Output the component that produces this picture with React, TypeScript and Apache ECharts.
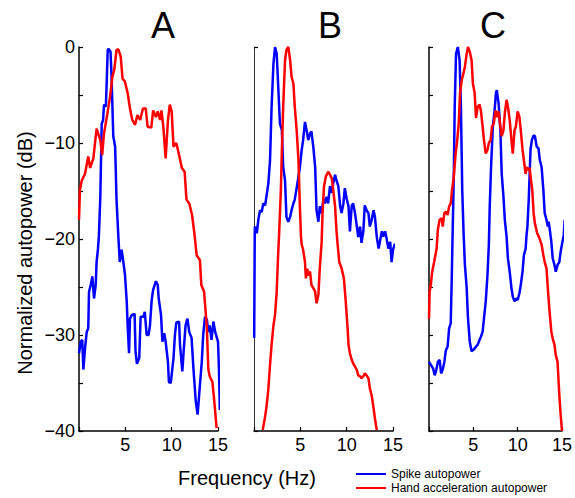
import React, { useEffect, useRef } from "react";
import * as echarts from "echarts";

// ---- data: [frequency (Hz), normalized autopower (dB)] ----
const spikeA: number[][] = [[0,-31.9],[0.2,-30.7],[0.35,-30.5],[0.47,-33.6],[0.65,-31.4],[0.83,-29.7],[1.0,-29.3],[1.08,-25.5],[1.26,-24.8],[1.44,-23.9],[1.62,-26.2],[1.8,-24.8],[1.9,-22.4],[2.05,-21.0],[2.15,-19.6],[2.3,-15.6],[2.45,-8.0],[2.6,-7.6],[2.7,-6.0],[2.9,-6.2],[3.0,-3.4],[3.1,-0.3],[3.2,-0.2],[3.4,-0.5],[3.5,-2.7],[3.7,-9.3],[3.9,-10.4],[4.05,-15.9],[4.25,-19.8],[4.4,-22.4],[4.6,-21.1],[4.8,-22.5],[4.96,-23.7],[5.15,-26.5],[5.25,-29.0],[5.4,-31.9],[5.5,-28.3],[5.7,-27.9],[6.0,-27.8],[6.1,-31.7],[6.25,-33.0],[6.5,-32.4],[6.65,-28.1],[6.95,-28.1],[7.1,-27.6],[7.3,-30.0],[7.5,-30.0],[7.65,-29.1],[7.85,-26.3],[8.0,-25.3],[8.3,-24.4],[8.5,-24.8],[8.6,-26.2],[8.85,-27.9],[9.0,-30.7],[9.2,-29.8],[9.35,-30.7],[9.6,-32.8],[9.7,-34.9],[9.9,-35.0],[10.2,-32.4],[10.35,-30.0],[10.5,-28.7],[10.8,-28.6],[10.9,-31.0],[11.15,-33.8],[11.3,-31.6],[11.5,-29.0],[11.7,-28.3],[11.9,-29.7],[12.15,-30.3],[12.35,-33.5],[12.6,-36.9],[12.8,-38.3],[13.05,-35.2],[13.25,-32.8],[13.4,-30.0],[13.6,-28.1],[13.8,-28.4],[13.95,-29.7],[14.1,-29.0],[14.3,-30.5],[14.5,-28.6],[14.7,-29.7],[15.0,-30.7],[15.1,-33.5],[15.2,-37.8]];

const handA: number[][] = [[0,-18.0],[0.1,-14.9],[0.3,-13.9],[0.65,-13.2],[1.0,-11.4],[1.2,-12.6],[1.55,-11.6],[1.9,-8.5],[2.3,-9.7],[2.5,-11.25],[2.7,-9.0],[3.0,-7.3],[3.35,-5.2],[3.6,-3.1],[3.8,-2.4],[4.05,-0.3],[4.25,-0.24],[4.5,-1.0],[4.7,-3.3],[4.95,-3.6],[5.25,-4.8],[5.5,-6.4],[5.75,-7.6],[6.05,-8.1],[6.3,-7.1],[6.6,-7.6],[6.9,-6.4],[7.2,-6.4],[7.4,-8.3],[7.8,-8.4],[8.0,-6.6],[8.3,-7.3],[8.5,-6.7],[8.75,-7.6],[8.9,-6.6],[9.1,-8.3],[9.35,-11.6],[9.6,-7.6],[9.8,-6.0],[10.0,-6.7],[10.2,-10.4],[10.5,-10.0],[10.8,-11.25],[11.1,-12.6],[11.4,-13.0],[11.6,-15.9],[11.9,-16.3],[12.2,-17.5],[12.45,-19.4],[12.7,-21.7],[13.05,-22.2],[13.2,-24.8],[13.5,-25.5],[13.8,-29.3],[13.95,-33.5],[14.1,-34.3],[14.4,-34.9],[14.6,-36.9],[14.85,-39.7]];

const spikeB: number[][] = [[0.02,-30.3],[0.08,-19.5],[0.1,-18.7],[0.3,-19.4],[0.47,-18.0],[0.65,-17.0],[0.83,-17.2],[1.0,-16.3],[1.2,-16.5],[1.37,-15.4],[1.55,-14.2],[1.73,-11.8],[1.9,-6.2],[2.1,-1.7],[2.27,0],[2.45,-0.7],[2.6,-3.8],[2.8,-8.0],[3.0,-8.6],[3.15,-12.5],[3.35,-13.9],[3.5,-17.7],[3.7,-18.2],[3.9,-17.7],[4.05,-17.0],[4.25,-16.3],[4.4,-15.9],[4.6,-14.7],[4.8,-13.5],[4.95,-12.5],[5.15,-10.7],[5.3,-9.7],[5.5,-7.8],[5.7,-8.8],[5.85,-9.7],[6.05,-9.0],[6.2,-8.8],[6.4,-10.4],[6.6,-12.5],[6.75,-17.0],[6.95,-18.2],[7.1,-16.6],[7.3,-17.3],[7.5,-15.8],[7.65,-16.3],[7.85,-15.6],[8.0,-16.3],[8.2,-14.5],[8.4,-15.2],[8.55,-14.2],[8.75,-13.3],[8.9,-13.9],[9.1,-14.5],[9.3,-16.6],[9.45,-17.3],[9.65,-16.3],[9.8,-14.7],[10.0,-15.8],[10.2,-16.6],[10.35,-19.2],[10.55,-16.5],[10.7,-16.3],[10.9,-17.3],[11.1,-18.7],[11.25,-19.8],[11.45,-18.7],[11.6,-20.4],[11.8,-19.2],[11.95,-16.5],[12.15,-17.0],[12.35,-17.3],[12.5,-18.7],[12.7,-18.0],[12.9,-17.0],[13.05,-17.7],[13.25,-19.8],[13.45,-21.0],[13.6,-20.2],[13.8,-19.2],[13.95,-19.75],[14.15,-19.2],[14.3,-19.9],[14.5,-21.0],[14.7,-20.3],[14.85,-22.4],[15.0,-21.1],[15.2,-20.5],[15.4,-21.0]];

const handB: number[][] = [[0.94,-39.9],[1.2,-38.5],[1.37,-37.3],[1.55,-35.6],[1.73,-33.1],[1.9,-31.0],[2.1,-29.0],[2.27,-27.9],[2.45,-25.5],[2.6,-21.7],[2.7,-19.7],[2.9,-14.9],[3.0,-11.1],[3.15,-6.2],[3.35,-1.35],[3.5,-0.3],[3.7,0],[3.9,-1.35],[4.05,-3.1],[4.25,-3.8],[4.4,-6.2],[4.6,-8.6],[4.8,-11.8],[4.95,-16.6],[5.07,-19.75],[5.15,-20.6],[5.3,-21.1],[5.5,-22.4],[5.6,-24.1],[5.75,-23.1],[5.85,-23.8],[6.05,-23.4],[6.2,-24.8],[6.4,-25.1],[6.6,-25.5],[6.75,-26.7],[6.95,-25.8],[7.1,-23.05],[7.3,-20.3],[7.4,-17.3],[7.55,-14.55],[7.75,-13.5],[8.0,-13.0],[8.2,-13.3],[8.4,-13.7],[8.55,-14.9],[8.75,-16.6],[8.9,-19.1],[9.0,-20.3],[9.2,-22.4],[9.45,-23.05],[9.7,-24.1],[9.9,-26.5],[10.1,-29.3],[10.2,-31.0],[10.35,-31.9],[10.55,-32.6],[10.7,-32.95],[10.9,-33.3],[11.1,-33.65],[11.25,-34.2],[11.45,-34.3],[11.6,-34.5],[11.8,-34.3],[11.95,-34.0],[12.15,-34.2],[12.35,-34.5],[12.5,-35.55],[12.7,-36.3],[12.9,-37.6],[13.05,-38.7],[13.25,-39.9]];

const spikeC: number[][] = [[0,-32.8],[0.2,-33.1],[0.47,-33.5],[0.65,-34.2],[0.83,-33.6],[1.0,-32.8],[1.2,-32.6],[1.37,-34.0],[1.55,-33.6],[1.73,-32.8],[1.9,-31.6],[2.1,-31.2],[2.27,-29.3],[2.45,-28.8],[2.55,-24.8],[2.66,-19.6],[2.8,-13.2],[2.9,-6.2],[3.05,-0.7],[3.25,0],[3.45,-1.35],[3.6,-6.2],[3.75,-14.9],[3.9,-19.4],[4.05,-22.7],[4.25,-25.1],[4.4,-28.3],[4.6,-30.7],[4.8,-31.7],[4.95,-31.6],[5.15,-31.4],[5.3,-31.2],[5.5,-31.0],[5.7,-30.5],[5.85,-30.2],[6.05,-29.65],[6.2,-28.3],[6.4,-26.5],[6.6,-23.7],[6.75,-20.6],[6.85,-16.6],[7.0,-12.5],[7.2,-8.3],[7.4,-6.6],[7.55,-4.8],[7.65,-4.5],[7.85,-5.9],[8.05,-8.65],[8.2,-13.2],[8.4,-15.6],[8.55,-18.0],[8.75,-19.75],[8.9,-22.0],[9.1,-23.4],[9.3,-25.1],[9.45,-26.0],[9.65,-26.5],[9.8,-26.2],[10.0,-26.35],[10.2,-25.65],[10.35,-24.8],[10.55,-23.4],[10.7,-21.7],[10.9,-21.0],[11.0,-19.6],[11.1,-18.7],[11.25,-15.9],[11.45,-10.7],[11.6,-9.7],[11.8,-9.2],[11.95,-9.3],[12.15,-10.4],[12.35,-10.55],[12.5,-11.8],[12.7,-12.5],[12.9,-14.9],[13.05,-17.3],[13.25,-18.0],[13.4,-18.7],[13.5,-18.2],[13.65,-19.2],[13.8,-20.3],[13.95,-22.0],[14.15,-22.7],[14.3,-23.4],[14.5,-22.7],[14.7,-22.4],[14.85,-21.3],[15.05,-20.3],[15.2,-19.6],[15.3,-18.0]];

const handC: number[][] = [[0,-28.3],[0.07,-25.5],[0.2,-24.8],[0.36,-23.4],[0.58,-22.4],[0.72,-21.7],[0.86,-21.0],[1.0,-19.0],[1.2,-18.0],[1.44,-17.85],[1.55,-18.7],[1.73,-17.3],[1.9,-17.15],[2.1,-17.5],[2.27,-16.6],[2.45,-16.3],[2.6,-14.9],[2.8,-13.5],[3.0,-11.1],[3.15,-10.0],[3.35,-8.0],[3.5,-4.8],[3.7,-3.4],[3.9,-2.7],[4.05,-2.05],[4.25,-0.7],[4.4,0],[4.6,-0.5],[4.8,-1.35],[4.95,-3.8],[5.15,-4.8],[5.3,-7.4],[5.5,-6.2],[5.7,-6.0],[5.85,-6.6],[6.05,-8.3],[6.2,-9.7],[6.4,-11.1],[6.6,-10.7],[6.75,-10.0],[6.95,-9.7],[7.1,-8.3],[7.3,-8.0],[7.5,-6.6],[7.65,-7.3],[7.85,-6.7],[8.05,-8.3],[8.2,-9.3],[8.4,-8.65],[8.55,-6.9],[8.75,-5.5],[8.9,-6.2],[9.1,-7.6],[9.3,-9.7],[9.45,-11.1],[9.65,-8.65],[9.8,-8.3],[10.0,-6.7],[10.2,-7.3],[10.35,-8.65],[10.55,-10.7],[10.7,-11.8],[10.9,-13.2],[11.0,-12.5],[11.15,-12.8],[11.35,-12.6],[11.5,-13.85],[11.65,-14.9],[11.8,-17.3],[11.95,-18.4],[12.2,-19.4],[12.45,-19.9],[12.7,-20.6],[12.9,-21.7],[13.05,-22.4],[13.25,-23.05],[13.4,-25.1],[13.6,-27.6],[13.8,-29.65],[13.95,-30.35],[14.15,-31.0],[14.3,-32.1],[14.5,-32.8],[14.7,-36.25],[14.85,-38.3],[15.0,-40]];

const panelTitles = ["A", "B", "C"];
const seriesNames = ["Spike autopower", "Hand acceleration autopower"];
const xTitle = "Frequency (Hz)";
const yTitle = "Normalized autopower (dB)";

const FONT = "Liberation Sans, Arial, Helvetica, sans-serif";
const BLUE = "#0000ff";
const RED = "#ff0000";

export default function App() {
  const ref = useRef<HTMLDivElement>(null);
  useEffect(() => {
    if (!ref.current) return;
    const chart = echarts.init(ref.current, null, { renderer: "svg" });
    const lefts = [79, 254, 429];
    const spikes = [spikeA, spikeB, spikeC];
    const hands = [handA, handB, handC];
    const titleX = [163, 330, 493];

    const series: any[] = [];
    lefts.forEach((_, i) => {
      series.push({
        name: seriesNames[0], type: "line", xAxisIndex: i, yAxisIndex: i, data: spikes[i],
        showSymbol: false, symbol: "none", clip: false,
        lineStyle: { color: BLUE, width: 2.5 }, itemStyle: { color: BLUE }, z: 2,
      });
      series.push({
        name: seriesNames[1], type: "line", xAxisIndex: i, yAxisIndex: i, data: hands[i],
        showSymbol: false, symbol: "none", clip: false,
        lineStyle: { color: RED, width: 2.5 }, itemStyle: { color: RED }, z: 3,
      });
    });

    const txt = (text: string, x: number, y: number, size: number, rotation = 0) => ({
      type: "text", x, y, rotation,
      style: { text, font: `${size}px ${FONT}`, fill: "#000", align: "center", verticalAlign: "middle" },
    });
    const graphics: any[] = panelTitles.map((t, i) => txt(t, titleX[i], 25, 36));
    graphics.push(txt(xTitle, 247, 478, 20));
    graphics.push(txt(yTitle, 25, 253, 20, Math.PI / 2));

    chart.setOption({
      animation: false,
      backgroundColor: "#fff",
      grid: lefts.map((l) => ({ left: l, top: 47, width: 139, height: 384, containLabel: false })),
      xAxis: lefts.map((_, i) => ({
        type: "value", gridIndex: i, position: "bottom", min: 0, max: 15, interval: 5,
        axisLine: { show: true, onZero: false, lineStyle: { color: "#000", width: 1.5 } },
        axisTick: { show: true, inside: true, length: 4, lineStyle: { color: "#000", width: 1.2 } },
        splitLine: { show: false },
        axisLabel: {
          color: "#000", fontSize: 18, fontFamily: FONT, margin: 5,
          formatter: (v: number) => (v > 0 && v % 5 === 0 ? String(v) : ""),
        },
      })),
      yAxis: lefts.map((_, i) => ({
        type: "value", gridIndex: i, position: "left", min: -40, max: 0, interval: i === 1 ? 40 : 5,
        axisLine: { show: true, onZero: false, lineStyle: { color: i === 1 ? "#333" : "#000", width: i === 1 ? 1 : 1.5 } },
        axisTick: { show: true, inside: true, length: 4, lineStyle: { color: "#000", width: 1.2 } },
        splitLine: { show: false },
        axisLabel: {
          show: i === 0, color: "#000", fontSize: 18, fontFamily: FONT, margin: 4,
          formatter: (v: number) => (v % 10 === 0 ? String(v).replace("-", "\u2212") : ""),
        },
      })),
      series,
      legend: {
        data: seriesNames, orient: "vertical", left: 356, top: 468, icon: "rect",
        itemWidth: 30, itemHeight: 2, itemGap: 2, padding: 0,
        textStyle: { fontSize: 12, fontFamily: FONT, color: "#000" },
      },
      graphic: graphics,
    });
    return () => chart.dispose();
  }, []);
  return (
    <div ref={ref} style={{ position: "fixed", left: 0, top: 0, width: 575, height: 498, background: "#fff" }} />
  );
}
